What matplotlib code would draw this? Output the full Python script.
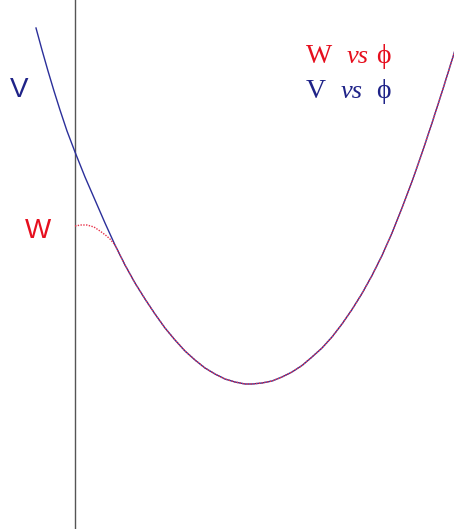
import matplotlib
matplotlib.use("Agg")
import matplotlib.pyplot as plt
from matplotlib.font_manager import FontProperties

# potential V(phi) (blue)
phi_V = [-0.39, -0.33, -0.27, -0.21, -0.15, -0.08, 0.00, 0.10, 0.20, 0.30, 0.40, 0.50,
         0.60, 0.70, 0.80, 0.90, 1.00, 1.10, 1.20, 1.30, 1.40, 1.50, 1.60, 1.70, 1.77,
         1.87, 1.97, 2.07, 2.17, 2.27, 2.37, 2.47, 2.57, 2.67, 2.77, 2.87, 2.97, 3.07,
         3.17, 3.27, 3.37, 3.47, 3.57, 3.67, 3.77, 3.81]
V = [5.01, 4.79, 4.58, 4.38, 4.19, 3.98, 3.77, 3.52, 3.29, 3.06, 2.84, 2.64,
     2.46, 2.30, 2.15, 2.01, 1.89, 1.78, 1.69, 1.61, 1.55, 1.50, 1.47, 1.45, 1.45,
     1.46, 1.48, 1.52, 1.57, 1.635, 1.72, 1.81, 1.92, 2.05, 2.195, 2.355, 2.535, 2.735,
     2.96, 3.21, 3.475, 3.76, 4.06, 4.37, 4.69, 4.82]

# W(phi) (red dotted): flattens near phi = 0, joins V afterwards
phi_W = [0.00, 0.06, 0.12, 0.19, 0.25, 0.31, 0.35, 0.40, 0.50,
         0.60, 0.70, 0.80, 0.90, 1.00, 1.10, 1.20, 1.30, 1.40, 1.50, 1.60, 1.70, 1.77,
         1.87, 1.97, 2.07, 2.17, 2.27, 2.37, 2.47, 2.57, 2.67, 2.77, 2.87, 2.97, 3.07,
         3.17, 3.27, 3.37, 3.47, 3.57, 3.67, 3.77, 3.81]
W = [3.03, 3.04, 3.04, 3.02, 2.98, 2.935, 2.90, 2.84, 2.64,
     2.46, 2.30, 2.15, 2.01, 1.89, 1.78, 1.69, 1.61, 1.55, 1.50, 1.47, 1.45, 1.45,
     1.46, 1.48, 1.52, 1.57, 1.635, 1.72, 1.81, 1.92, 2.05, 2.195, 2.355, 2.535, 2.735,
     2.96, 3.21, 3.475, 3.76, 4.06, 4.37, 4.69, 4.82]

BLUE = "#1f2388"
RED = "#e60f1e"

fig = plt.figure(figsize=(4.54, 5.29), dpi=100)
ax = fig.add_axes([0, 0, 1, 1])
ax.set_xlim(-0.75, 3.79)
ax.set_ylim(0, 5.29)
ax.axis("off")

ax.axvline(0, color="#555555", lw=1.0)
ax.plot(phi_V, V, color="#2b2f9a", lw=1.0, solid_joinstyle="round")
ax.plot(phi_W, W, color="#e8324a", lw=1.0, linestyle=(0, (1, 1)))

def px(x, y):
    return x / 454, 1 - y / 529

sans = FontProperties(family=["Liberation Sans", "DejaVu Sans"], size=20)
serif = FontProperties(family=["Liberation Serif", "DejaVu Serif"], size=20)
serif_it = FontProperties(family=["Liberation Serif", "DejaVu Serif"], style="italic", size=19)

ax.text(*px(10, 97), "V", transform=ax.transAxes, color=BLUE, fontproperties=sans,
        ha="left", va="baseline")
ax.text(*px(25, 238), "W", transform=ax.transAxes, color=RED, fontproperties=sans,
        ha="left", va="baseline")

# legend-like labels
rows = [("W", RED, 63, 347), ("V", BLUE, 98, 341)]
for letter, col, base, vsx in rows:
    ax.text(*px(306, base), letter, transform=ax.transAxes, color=col,
            fontproperties=serif, ha="left", va="baseline")
    ax.text(*px(vsx, base), "vs", transform=ax.transAxes, color=col,
            fontproperties=serif_it, ha="left", va="baseline")
    ax.text(*px(376, base), "ϕ", transform=ax.transAxes, color=col,
            fontproperties=serif, ha="left", va="baseline")

fig.savefig("out.png", dpi=100)
